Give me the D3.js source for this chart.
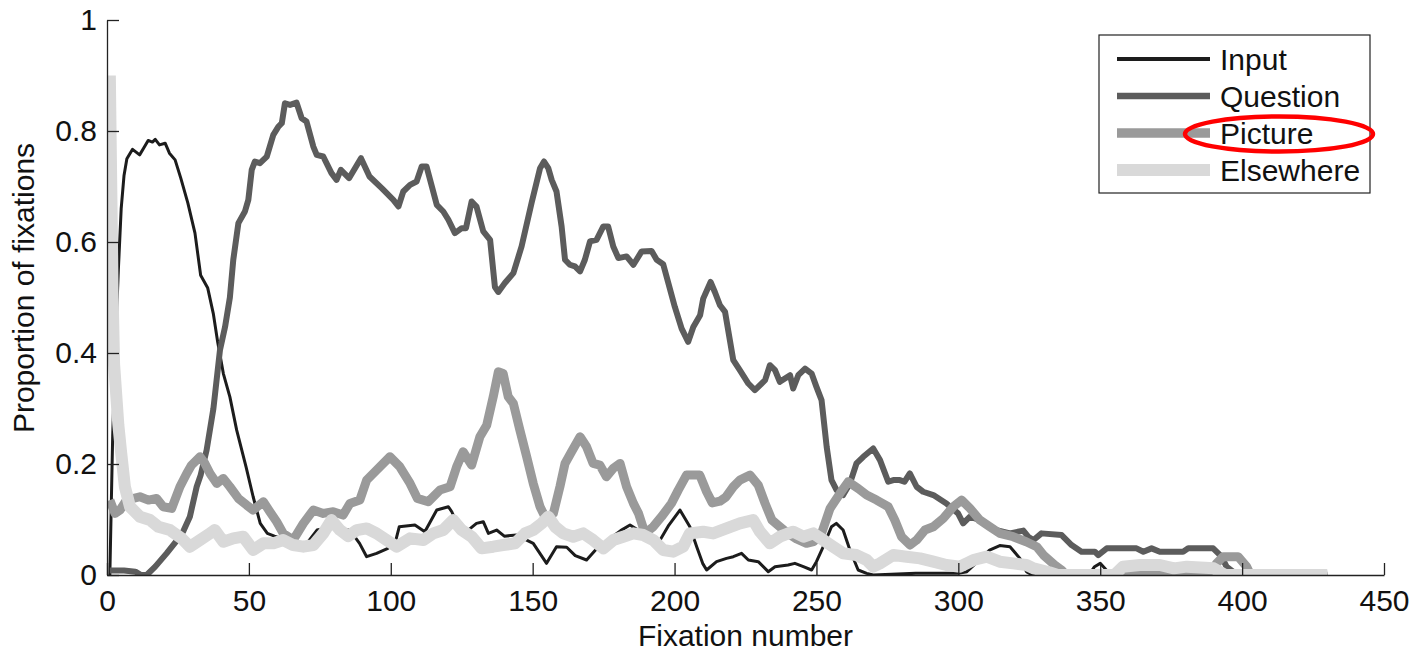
<!DOCTYPE html>
<html>
<head>
<meta charset="utf-8">
<script src="https://cdn.jsdelivr.net/npm/d3@7"></script>
<style>
  html, body { margin: 0; padding: 0; background: #fff; }
  svg { display: block; }
  text { font-family: "Liberation Sans", Arial, Helvetica, sans-serif; fill: #111; }
</style>
</head>
<body>
<svg id="chart" width="1416" height="653"></svg>
<script>
// ---------- data ----------
const seriesNames = ["Input", "Question", "Picture", "Elsewhere"];
const xTicks = [0, 50, 100, 150, 200, 250, 300, 350, 400, 450];
const yTicks = [0, 0.2, 0.4, 0.6, 0.8, 1];
const yTickLabels = ["0", "0.2", "0.4", "0.6", "0.8", "1"];
const xLabel = "Fixation number";
const yLabel = "Proportion of fixations";

const inputData = [[1,0],[2,0.25],[3,0.42],[4,0.55],[5,0.66],[6,0.72],[7,0.75],[9,0.767],[11.5,0.757],[13,0.77],[14.5,0.783],[16,0.78],[17,0.785],[18.5,0.775],[20.5,0.778],[22,0.76],[24,0.748],[26,0.715],[28.5,0.67],[31,0.616],[33,0.54],[35.5,0.517],[37.5,0.47],[39,0.42],[41,0.363],[43.3,0.321],[45.7,0.261],[49,0.195],[51.5,0.141],[54,0.093],[56.5,0.075],[59,0.07],[62,0.065],[65,0.06],[68,0.05],[70.4,0.057],[74,0.081],[78,0.085],[82,0.082],[85.6,0.081],[89,0.057],[91.5,0.033],[95,0.039],[99,0.048],[101.5,0.057],[103,0.087],[108.5,0.09],[112,0.078],[116.2,0.117],[120.3,0.123],[121.5,0.114],[123.8,0.087],[127.3,0.081],[130.2,0.093],[132.6,0.096],[134.4,0.075],[137.3,0.081],[140,0.07],[144.3,0.072],[150.2,0.057],[154.9,0.021],[158.4,0.051],[162,0.05],[165,0.035],[169,0.027],[173,0.05],[177,0.065],[181,0.08],[184.3,0.09],[189,0.075],[194.9,0.063],[198,0.09],[201.9,0.117],[205.4,0.087],[207.8,0.051],[210,0.02],[211.3,0.009],[214.8,0.024],[218.3,0.03],[220.7,0.033],[223.6,0.039],[226,0.027],[229.5,0.024],[233,0.006],[235.4,0.015],[240,0.018],[242.4,0.021],[245.4,0.015],[248.3,0.009],[250,0.024],[252.4,0.051],[255.3,0.087],[257,0.093],[259.4,0.081],[261.8,0.045],[264.7,0.009],[267.7,0.003],[270,0],[285,0.003],[300,0.003],[303,0.006],[307,0.025],[311,0.045],[314.6,0.053],[318.2,0.051],[321.7,0.03],[324,0.006],[326,0],[346,0],[348,0.015],[350,0.021],[352,0.01],[354,0],[430,0]];

const questionData = [[1,0.008],[6,0.008],[10,0.006],[12,0],[14,0],[17,0.015],[21,0.039],[25.7,0.069],[27,0.08],[29.2,0.105],[31.6,0.159],[33,0.18],[35.1,0.225],[37.5,0.3],[39.8,0.405],[41.6,0.447],[43.3,0.5],[44.5,0.568],[46.3,0.634],[48.6,0.655],[49.8,0.676],[51,0.73],[52.1,0.745],[53.9,0.742],[56.3,0.754],[58.6,0.793],[60.4,0.808],[61.6,0.814],[62.7,0.85],[64.5,0.847],[66.8,0.851],[68.6,0.823],[70.3,0.817],[72.7,0.772],[73.9,0.757],[76.2,0.754],[79.1,0.724],[80.9,0.712],[82.4,0.73],[85.3,0.715],[89.5,0.751],[92.5,0.718],[96.8,0.697],[100.9,0.676],[102.7,0.664],[104.4,0.691],[106.8,0.703],[109.1,0.709],[110.9,0.736],[112.6,0.736],[116.2,0.667],[118.5,0.655],[120.3,0.64],[122.6,0.616],[125,0.625],[126.5,0.625],[128.5,0.673],[130.2,0.664],[132.6,0.619],[135,0.604],[136.7,0.519],[137.9,0.51],[140.2,0.526],[143.2,0.544],[146.1,0.592],[149.6,0.67],[152.6,0.733],[154,0.745],[155.5,0.733],[156.7,0.712],[158.4,0.691],[160.2,0.628],[161.4,0.568],[163.1,0.559],[164.9,0.556],[166.7,0.547],[168.4,0.568],[170.2,0.601],[172.5,0.604],[174.9,0.628],[176.6,0.628],[178.4,0.592],[180.2,0.571],[183.1,0.574],[185.5,0.559],[188.4,0.583],[191.9,0.584],[193.7,0.568],[196,0.56],[197.8,0.526],[200.1,0.483],[202.5,0.444],[204.8,0.42],[206.6,0.447],[209,0.468],[210.1,0.498],[212.7,0.528],[214.2,0.51],[216,0.486],[217.8,0.474],[220.7,0.387],[223,0.369],[226,0.345],[228.3,0.333],[231.9,0.351],[233.6,0.378],[235.4,0.369],[237.1,0.348],[240.7,0.36],[241.8,0.336],[243.6,0.36],[246,0.372],[248.3,0.363],[250,0.339],[251.8,0.315],[253.6,0.231],[255.3,0.171],[257.1,0.153],[259.4,0.144],[261.8,0.165],[264.1,0.201],[266.5,0.213],[270,0.228],[272.4,0.207],[275.3,0.168],[277.1,0.171],[279.4,0.171],[281,0.168],[282.9,0.183],[285.3,0.159],[287.6,0.15],[291.2,0.144],[295.8,0.129],[299.9,0.111],[301.7,0.093],[304.1,0.105],[307.6,0.099],[313.5,0.081],[318.2,0.075],[322.9,0.08],[324.6,0.069],[326.5,0.063],[329.3,0.075],[336.4,0.072],[339.9,0.054],[343.4,0.042],[348.1,0.042],[349.3,0.036],[352.3,0.048],[362.8,0.048],[365.2,0.042],[368.1,0.048],[371,0.042],[379.2,0.042],[381,0.048],[389.8,0.048],[392.8,0.033],[394.5,0.015],[396.8,0.006],[398,0],[430,0]];

const pictureData = [[1,0.135],[2.8,0.111],[4.6,0.117],[6.9,0.135],[11.6,0.141],[14.6,0.135],[17.5,0.138],[19.8,0.123],[22.8,0.12],[25.7,0.159],[28.1,0.183],[29.8,0.198],[32.8,0.213],[34.5,0.201],[36.3,0.183],[38.7,0.165],[41,0.174],[43.3,0.159],[46.3,0.138],[49.2,0.126],[51.5,0.117],[55.1,0.132],[57.4,0.114],[59.8,0.096],[62.1,0.075],[65.6,0.063],[69.2,0.093],[72.7,0.117],[76.2,0.111],[79.7,0.114],[83.2,0.108],[85.6,0.129],[89.1,0.135],[91.5,0.171],[95,0.189],[99.7,0.213],[103.2,0.195],[106.8,0.165],[109.4,0.138],[113.2,0.132],[117.3,0.153],[120.9,0.159],[123.2,0.195],[125.5,0.222],[128.5,0.198],[131.4,0.249],[133.8,0.27],[136.1,0.321],[137.9,0.366],[139.6,0.363],[141.4,0.321],[143.2,0.309],[145.5,0.261],[147.9,0.213],[150.2,0.165],[152.6,0.123],[154.9,0.099],[157.3,0.111],[159.6,0.159],[161.4,0.201],[163.7,0.222],[166.7,0.249],[169,0.231],[171.3,0.201],[173.7,0.198],[176,0.177],[178.4,0.192],[180.8,0.201],[183.1,0.159],[185.5,0.129],[187.3,0.111],[189.6,0.075],[192.5,0.087],[195.4,0.105],[198.9,0.129],[201.3,0.153],[204.2,0.18],[208.9,0.18],[211.3,0.15],[213.3,0.13],[216,0.133],[218,0.14],[220.7,0.159],[223,0.171],[226.6,0.18],[229.5,0.162],[231.9,0.129],[234.3,0.099],[237.1,0.087],[240,0.075],[243,0.065],[246.5,0.057],[249,0.06],[251.8,0.075],[254.8,0.12],[258.3,0.147],[261.2,0.168],[264.7,0.156],[267.7,0.144],[271.2,0.135],[275.3,0.123],[277.6,0.099],[280,0.069],[283,0.054],[285.3,0.063],[288.2,0.081],[291.2,0.087],[294.7,0.102],[298.2,0.123],[301.2,0.135],[304.1,0.12],[307.6,0.099],[311.1,0.087],[314.6,0.075],[319.3,0.069],[323.9,0.06],[327.6,0.051],[330,0.036],[334,0.018],[336.4,0.009],[338,0],[389,0],[391,0.021],[393.3,0.033],[398.6,0.033],[401.6,0.015],[403,0],[430,0]];

const elsewhereData = [[1,0.9],[2,0.5],[2.5,0.38],[4,0.27],[5,0.22],[6.3,0.159],[8.1,0.123],[11.6,0.105],[15.2,0.099],[18.1,0.087],[22.2,0.081],[26.3,0.066],[29.2,0.051],[32.8,0.063],[36.3,0.075],[38,0.081],[41,0.06],[44.5,0.066],[48,0.069],[51.5,0.045],[55.1,0.057],[58.6,0.057],[62.1,0.063],[65.6,0.054],[69.2,0.051],[72.7,0.054],[76.2,0.075],[79.1,0.099],[82.1,0.081],[85,0.07],[88,0.081],[91.5,0.084],[95,0.075],[98.5,0.063],[102.1,0.051],[106.8,0.066],[111.5,0.063],[115,0.075],[118.5,0.081],[122,0.099],[125,0.081],[128.5,0.069],[132,0.048],[136.1,0.051],[139.6,0.054],[143.8,0.057],[147.3,0.075],[150.2,0.081],[153.2,0.093],[155.5,0.105],[157.9,0.087],[160.8,0.075],[164.3,0.069],[167.8,0.075],[171.3,0.063],[174.9,0.048],[178.4,0.063],[181.9,0.069],[185.5,0.075],[189,0.072],[192.5,0.063],[196,0.045],[199.5,0.042],[203,0.051],[205.4,0.075],[210.1,0.078],[213.6,0.075],[218.3,0.084],[223,0.093],[227.7,0.099],[230.1,0.078],[233.6,0.057],[237.1,0.069],[241.8,0.078],[245.4,0.069],[248.9,0.075],[252.4,0.063],[255.9,0.051],[259.4,0.039],[264.1,0.036],[267.7,0.027],[270,0.015],[272.4,0.021],[277.1,0.036],[281.8,0.033],[286.5,0.03],[291.2,0.024],[295.8,0.018],[300.6,0.015],[305.3,0.027],[310,0.033],[314.6,0.024],[319.3,0.021],[324,0.018],[326.5,0.012],[332,0.005],[335,0],[355,0],[358,0.015],[364,0.018],[371,0.018],[376,0.012],[380.5,0.015],[390,0.012],[394,0],[430,0]];

const seriesData = [inputData, questionData, pictureData, elsewhereData];
const seriesColors = ["#1c1c1c", "#5c5c5c", "#9a9a9a", "#d9d9d9"];
const seriesWidths = [3, 6, 9, 12];
const legendWidths = [4, 6.5, 9.5, 12];

// ---------- layout ----------
const svg = d3.select("#chart");
const plotLeft = 107, plotRight = 1384, plotTop = 20, plotBottom = 575;
const FONT = 30;

const x = d3.scaleLinear().domain([0, 450]).range([plotLeft, plotRight]);
const y = d3.scaleLinear().domain([0, 1]).range([plotBottom, plotTop]);

svg.append("defs").append("clipPath").attr("id", "plotclip")
  .append("rect").attr("x", plotLeft).attr("y", plotTop)
  .attr("width", plotRight - plotLeft).attr("height", plotBottom - plotTop);

// lines
const line = d3.line().x(d => x(d[0])).y(d => y(d[1]));
const lg = svg.append("g").attr("clip-path", "url(#plotclip)");
seriesData.forEach((data, i) => {
  lg.append("path")
    .datum(data)
    .attr("d", line)
    .attr("fill", "none")
    .attr("stroke", seriesColors[i])
    .attr("stroke-width", seriesWidths[i])
    .attr("stroke-linejoin", "round")
    .attr("stroke-linecap", "butt");
});

// axes
const xAxis = d3.axisBottom(x).tickValues(xTicks).tickFormat(d3.format("d"))
  .tickSizeInner(-12).tickSizeOuter(0).tickPadding(15);
const gx = svg.append("g").attr("transform", `translate(0,${plotBottom})`).call(xAxis);

const yAxis = d3.axisLeft(y).tickValues(yTicks).tickFormat((d, i) => yTickLabels[i])
  .tickSizeInner(-12).tickSizeOuter(0).tickPadding(10);
const gy = svg.append("g").attr("transform", `translate(${plotLeft},0)`).call(yAxis);

[gx, gy].forEach(g => {
  g.selectAll("path.domain").attr("stroke", "#222").attr("stroke-width", 1.3);
  g.selectAll(".tick line").attr("stroke", "#222").attr("stroke-width", 1.3);
  g.selectAll(".tick text")
    .attr("font-family", '"Liberation Sans", Arial, Helvetica, sans-serif')
    .attr("font-size", FONT).attr("fill", "#111");
});

// axis labels
svg.append("text")
  .attr("x", (plotLeft + plotRight) / 2).attr("y", 646)
  .attr("text-anchor", "middle").attr("font-size", FONT)
  .text(xLabel);

svg.append("text")
  .attr("transform", `translate(34,288) rotate(-90)`)
  .attr("text-anchor", "middle").attr("font-size", FONT)
  .text(yLabel);

// legend
const legX = 1099, legY = 35, legW = 271, legH = 158;
const legend = svg.append("g");
legend.append("rect")
  .attr("x", legX).attr("y", legY).attr("width", legW).attr("height", legH)
  .attr("fill", "#fff").attr("stroke", "#222").attr("stroke-width", 1.2);
const legRows = [59, 96, 133, 170];
seriesNames.forEach((name, i) => {
  legend.append("line")
    .attr("x1", 1117).attr("x2", 1210)
    .attr("y1", legRows[i]).attr("y2", legRows[i])
    .attr("stroke", seriesColors[i]).attr("stroke-width", legendWidths[i]);
  legend.append("text")
    .attr("x", 1220).attr("y", legRows[i]).attr("dy", "0.36em")
    .attr("font-size", FONT)
    .text(name);
});

// red annotation ellipse around "Picture"
svg.append("ellipse")
  .attr("cx", 1279).attr("cy", 134).attr("rx", 94).attr("ry", 17.5)
  .attr("fill", "none").attr("stroke", "#ff0000").attr("stroke-width", 4.5);
</script>
</body>
</html>
